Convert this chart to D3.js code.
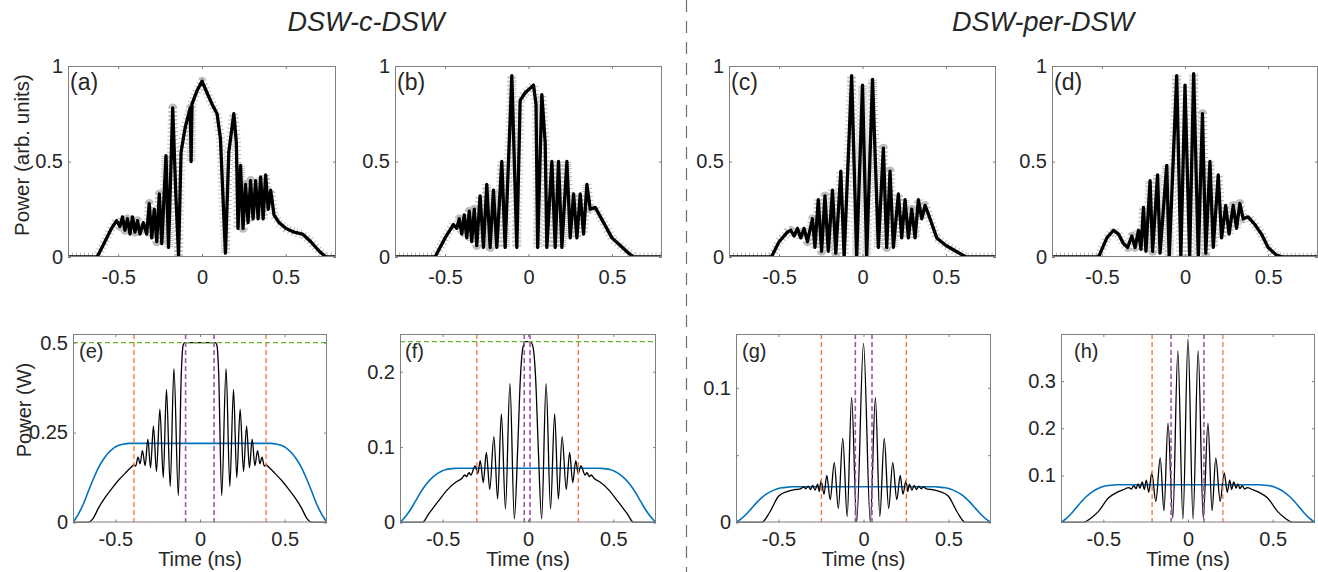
<!DOCTYPE html>
<html><head><meta charset="utf-8">
<script src="https://cdn.jsdelivr.net/npm/d3@7"></script>
<style>
body{margin:0;background:#fff}
svg{display:block}
text{font-family:"Liberation Sans",Arial,Helvetica,sans-serif;fill:#262626}
</style>
</head><body><svg id="c" width="1318" height="572"></svg>
<script>
// ---------------- DATA ----------------
const topXTicks = [-0.5, 0, 0.5];
const topYTicks = [0, 0.5, 1];
const botXTicks = [-0.5, 0, 0.5];
const yTicksE = [0, 0.25, 0.5];
const yTicksF = [0, 0.1, 0.2];
const yTicksG = [0, 0.05, 0.1];
const yLabelsG = ["0", "", "0.1"];
const yTicksH = [0.1, 0.2, 0.3];
const panelLabels = ["(a)","(b)","(c)","(d)","(e)","(f)","(g)","(h)"];
const titles = ["DSW-c-DSW", "DSW-per-DSW"];

// experimental traces (time ns, normalized power)
const expA = [[-0.8,0],[-0.626,0],[-0.58,0.08],[-0.54,0.15],[-0.51,0.19],[-0.49,0.16],[-0.475,0.21],[-0.46,0.14],[-0.445,0.2],[-0.43,0.12],[-0.415,0.21],[-0.40,0.13],[-0.385,0.19],[-0.37,0.12],[-0.35,0.18],[-0.33,0.12],[-0.315,0.28],[-0.30,0.1],[-0.285,0.25],[-0.27,0.08],[-0.255,0.33],[-0.24,0.07],[-0.215,0.53],[-0.20,0.05],[-0.175,0.78],[-0.155,0.3],[-0.14,0.01],[-0.125,0.55],[-0.1,0.68],[-0.07,0.78],[-0.065,0.5],[-0.06,0.8],[-0.03,0.87],[0,0.92],[0.03,0.86],[0.06,0.8],[0.09,0.75],[0.11,0.62],[0.14,0.02],[0.16,0.55],[0.175,0.65],[0.19,0.75],[0.205,0.6],[0.215,0.15],[0.23,0.48],[0.245,0.15],[0.26,0.38],[0.275,0.18],[0.29,0.4],[0.305,0.2],[0.32,0.4],[0.335,0.2],[0.35,0.42],[0.365,0.2],[0.38,0.43],[0.395,0.25],[0.41,0.35],[0.43,0.22],[0.46,0.18],[0.5,0.15],[0.55,0.13],[0.6,0.12],[0.65,0.08],[0.7,0.03],[0.74,0],[0.8,0]];
const expB = [[-0.8,0],[-0.56,0],[-0.5,0.1],[-0.45,0.17],[-0.43,0.15],[-0.415,0.2],[-0.4,0.12],[-0.385,0.22],[-0.37,0.1],[-0.355,0.24],[-0.34,0.08],[-0.325,0.25],[-0.31,0.06],[-0.29,0.32],[-0.27,0.05],[-0.25,0.38],[-0.23,0.05],[-0.21,0.35],[-0.19,0.05],[-0.16,0.5],[-0.14,0.05],[-0.1,0.95],[-0.07,0.05],[-0.05,0.82],[-0.02,0.86],[0.03,0.9],[0.045,0.8],[0.055,0.05],[0.08,0.85],[0.1,0.6],[0.11,0.05],[0.14,0.5],[0.16,0.05],[0.18,0.5],[0.2,0.05],[0.23,0.5],[0.25,0.1],[0.27,0.33],[0.29,0.1],[0.31,0.33],[0.33,0.12],[0.35,0.38],[0.37,0.25],[0.4,0.26],[0.45,0.18],[0.5,0.1],[0.55,0.06],[0.6,0.02],[0.63,0],[0.8,0]];
const expC = [[-0.8,0],[-0.546,0],[-0.5,0.08],[-0.45,0.13],[-0.43,0.14],[-0.41,0.11],[-0.39,0.15],[-0.37,0.1],[-0.35,0.15],[-0.33,0.08],[-0.3,0.2],[-0.285,0.05],[-0.265,0.3],[-0.245,0.03],[-0.225,0.32],[-0.205,0.03],[-0.18,0.35],[-0.16,0.02],[-0.13,0.45],[-0.11,0],[-0.065,0.95],[-0.035,0],[0,0.9],[0.025,0],[0.06,0.93],[0.095,0.05],[0.125,0.57],[0.145,0.05],[0.165,0.45],[0.185,0.05],[0.215,0.33],[0.235,0.1],[0.255,0.3],[0.275,0.1],[0.295,0.25],[0.315,0.1],[0.335,0.3],[0.355,0.2],[0.375,0.27],[0.405,0.2],[0.445,0.1],[0.5,0.06],[0.56,0.03],[0.62,0],[0.8,0]];
const expD = [[-0.8,0],[-0.52,0],[-0.47,0.1],[-0.43,0.14],[-0.4,0.12],[-0.37,0.07],[-0.345,0.05],[-0.32,0.11],[-0.3,0.05],[-0.28,0.14],[-0.265,0.04],[-0.25,0.26],[-0.235,0.03],[-0.21,0.4],[-0.195,0.03],[-0.165,0.43],[-0.15,0.02],[-0.11,0.48],[-0.095,0],[-0.05,0.95],[-0.025,0],[0,0.9],[0.028,0],[0.052,0.96],[0.08,0],[0.105,0.75],[0.125,0.02],[0.15,0.5],[0.17,0.05],[0.2,0.43],[0.22,0.1],[0.245,0.27],[0.265,0.12],[0.29,0.27],[0.31,0.15],[0.33,0.28],[0.35,0.2],[0.38,0.21],[0.42,0.17],[0.46,0.12],[0.5,0.05],[0.55,0.01],[0.59,0],[0.8,0]];

// simulated traces (time ns, power W)
const simE = [[-0.75,0],[-0.66,0],[-0.63,0.012],[-0.6,0.04],[-0.56,0.07],[-0.52,0.095],[-0.48,0.118],[-0.44,0.138],[-0.41,0.152],[-0.39,0.16],[-0.38,0.157],[-0.366,0.182],[-0.354,0.163],[-0.34,0.2],[-0.324,0.158],[-0.308,0.232],[-0.292,0.152],[-0.275,0.268],[-0.257,0.142],[-0.237,0.315],[-0.217,0.125],[-0.198,0.37],[-0.176,0.1],[-0.154,0.428],[-0.128,0.075],[-0.11,0.42],[-0.1,0.492],[-0.09,0.5],[0.09,0.5],[0.1,0.492],[0.11,0.42],[0.128,0.075],[0.154,0.428],[0.176,0.1],[0.198,0.37],[0.217,0.125],[0.237,0.315],[0.257,0.142],[0.275,0.268],[0.292,0.152],[0.308,0.232],[0.324,0.158],[0.34,0.2],[0.354,0.163],[0.366,0.182],[0.38,0.157],[0.39,0.16],[0.41,0.152],[0.44,0.138],[0.48,0.118],[0.52,0.095],[0.56,0.07],[0.6,0.04],[0.63,0.012],[0.66,0],[0.75,0]];
const simF = [[-0.75,0],[-0.62,0],[-0.58,0.012],[-0.53,0.027],[-0.47,0.044],[-0.42,0.054],[-0.39,0.058],[-0.37,0.063],[-0.36,0.061],[-0.345,0.066],[-0.335,0.063],[-0.31,0.075],[-0.294,0.065],[-0.28,0.082],[-0.262,0.053],[-0.244,0.093],[-0.224,0.044],[-0.2,0.114],[-0.178,0.031],[-0.156,0.144],[-0.132,0.018],[-0.106,0.184],[-0.08,0.005],[-0.06,0.1],[-0.045,0.19],[-0.03,0.232],[-0.015,0.24],[0,0.24],[0.015,0.24],[0.03,0.232],[0.045,0.19],[0.06,0.1],[0.08,0.005],[0.106,0.184],[0.132,0.018],[0.156,0.144],[0.178,0.031],[0.2,0.114],[0.224,0.044],[0.244,0.093],[0.262,0.053],[0.28,0.082],[0.294,0.065],[0.31,0.075],[0.335,0.063],[0.345,0.066],[0.36,0.061],[0.37,0.063],[0.39,0.058],[0.42,0.054],[0.47,0.044],[0.53,0.027],[0.58,0.012],[0.62,0],[0.75,0]];
const simG = [[-0.75,0],[-0.6,0],[-0.55,0.008],[-0.5,0.0195],[-0.45,0.023],[-0.4,0.0245],[-0.37,0.025],[-0.35,0.0265],[-0.34,0.025],[-0.325,0.027],[-0.312,0.0245],[-0.298,0.0275],[-0.285,0.024],[-0.27,0.0285],[-0.26,0.023],[-0.25,0.031],[-0.232,0.021],[-0.216,0.035],[-0.196,0.017],[-0.172,0.0445],[-0.148,0.0105],[-0.122,0.0625],[-0.096,0.0045],[-0.07,0.093],[-0.04,0.0003],[0,0.133],[0.04,0.0003],[0.07,0.093],[0.096,0.0045],[0.122,0.0625],[0.148,0.0105],[0.172,0.0445],[0.196,0.017],[0.216,0.035],[0.232,0.021],[0.25,0.031],[0.26,0.023],[0.27,0.0285],[0.285,0.024],[0.298,0.0275],[0.312,0.0245],[0.325,0.027],[0.34,0.025],[0.35,0.0265],[0.37,0.025],[0.4,0.0245],[0.45,0.023],[0.5,0.0195],[0.55,0.008],[0.6,0],[0.75,0]];
const simH = [[-0.75,0],[-0.62,0],[-0.57,0.01],[-0.53,0.023],[-0.47,0.052],[-0.42,0.064],[-0.38,0.07],[-0.35,0.074],[-0.335,0.071],[-0.32,0.078],[-0.307,0.072],[-0.295,0.082],[-0.284,0.073],[-0.27,0.086],[-0.258,0.07],[-0.246,0.09],[-0.232,0.064],[-0.214,0.105],[-0.19,0.045],[-0.164,0.137],[-0.142,0.025],[-0.118,0.211],[-0.09,0.009],[-0.06,0.364],[-0.03,0.007],[0,0.389],[0.03,0.007],[0.06,0.364],[0.09,0.009],[0.118,0.211],[0.142,0.025],[0.164,0.137],[0.19,0.045],[0.214,0.105],[0.232,0.064],[0.246,0.09],[0.258,0.07],[0.27,0.086],[0.284,0.073],[0.295,0.082],[0.307,0.072],[0.32,0.078],[0.335,0.071],[0.35,0.074],[0.38,0.07],[0.42,0.064],[0.47,0.052],[0.53,0.023],[0.57,0.01],[0.62,0],[0.75,0]];

// input pulse envelopes (blue)
const envE = [[-0.75,0],[-0.72,0.022],[-0.69,0.05],[-0.66,0.086],[-0.63,0.121],[-0.6,0.152],[-0.57,0.176],[-0.54,0.194],[-0.51,0.207],[-0.48,0.2145],[-0.45,0.218],[-0.42,0.22],[0.42,0.22],[0.45,0.218],[0.48,0.2145],[0.51,0.207],[0.54,0.194],[0.57,0.176],[0.6,0.152],[0.63,0.121],[0.66,0.086],[0.69,0.05],[0.72,0.022],[0.75,0]];
const envF = [[-0.75,0],[-0.72,0.0072],[-0.69,0.0166],[-0.66,0.028],[-0.63,0.0396],[-0.6,0.0497],[-0.57,0.0576],[-0.54,0.0634],[-0.51,0.0677],[-0.48,0.0702],[-0.45,0.0713],[-0.42,0.072],[0.42,0.072],[0.45,0.0713],[0.48,0.0702],[0.51,0.0677],[0.54,0.0634],[0.57,0.0576],[0.6,0.0497],[0.63,0.0396],[0.66,0.028],[0.69,0.0166],[0.72,0.0072],[0.75,0]];
const envG = [[-0.75,0],[-0.72,0.0027],[-0.69,0.0061],[-0.66,0.0103],[-0.63,0.0146],[-0.6,0.0183],[-0.57,0.0212],[-0.54,0.0233],[-0.51,0.0249],[-0.48,0.0258],[-0.45,0.0262],[-0.42,0.0265],[0.42,0.0265],[0.45,0.0262],[0.48,0.0258],[0.51,0.0249],[0.54,0.0233],[0.57,0.0212],[0.6,0.0183],[0.63,0.0146],[0.66,0.0103],[0.69,0.0061],[0.72,0.0027],[0.75,0]];
const envH = [[-0.75,0],[-0.72,0.008],[-0.69,0.0184],[-0.66,0.0312],[-0.63,0.044],[-0.6,0.0552],[-0.57,0.064],[-0.54,0.0704],[-0.51,0.0752],[-0.48,0.078],[-0.45,0.0792],[-0.42,0.08],[0.42,0.08],[0.45,0.0792],[0.48,0.078],[0.51,0.0752],[0.54,0.0704],[0.57,0.064],[0.6,0.0552],[0.63,0.044],[0.66,0.0312],[0.69,0.0184],[0.72,0.008],[0.75,0]];

// marker lines
const orangeE = [-0.39, 0.39], purpleE = [-0.085, 0.083], greenE = [0.5];
const orangeF = [-0.3, 0.295], purpleF = [-0.022, 0.012], greenF = [0.24];
const orangeG = [-0.248, 0.252], purpleG = [-0.048, 0.05], greenG = [];
const orangeH = [-0.212, 0.206], purpleH = [-0.1, 0.094], greenH = [];

// ---------------- DRAWING ----------------
const svg = d3.select("#c");
const FS = 20;
const AXC = "#7f7f7f";

function makePanel(p){
  const x = d3.scaleLinear().domain(p.xd).range([p.x0, p.x1]);
  const y = d3.scaleLinear().domain(p.yd).range([p.y1, p.y0]);
  const g = svg.append("g");
  const cid = "clip" + p.id;
  svg.append("clipPath").attr("id", cid).append("rect")
    .attr("x", p.x0).attr("y", p.y0 - 2).attr("width", p.x1 - p.x0).attr("height", p.y1 - p.y0 + 2);
  const plot = g.append("g").attr("clip-path", `url(#${cid})`);
  return {x, y, g, plot};
}

function axes(P, p){
  const {x, y, g} = P;
  const fmt = d => String(d);
  const ax = g.append("g").attr("transform", `translate(0,${p.y1})`)
    .call(d3.axisBottom(x).tickValues(p.xt).tickSize(-3).tickPadding(p.xpad).tickFormat(fmt));
  const axT = g.append("g").attr("transform", `translate(0,${p.y0})`)
    .call(d3.axisTop(x).tickValues(p.xt).tickSize(-3).tickFormat(""));
  const yl = p.ylab ? ((d,i) => p.ylab[i]) : fmt;
  const ay = g.append("g").attr("transform", `translate(${p.x0},0)`)
    .call(d3.axisLeft(y).tickValues(p.yt).tickSize(-3).tickPadding(5).tickFormat(yl));
  const ayR = g.append("g").attr("transform", `translate(${p.x1},0)`)
    .call(d3.axisRight(y).tickValues(p.yt).tickSize(-3).tickFormat(""));
  [ax, axT, ay, ayR].forEach(a => {
    a.select(".domain").remove();
    a.selectAll(".tick line").attr("stroke", AXC);
    a.selectAll("text").attr("font-size", FS).attr("fill", "#262626")
      .attr("font-family", '"Liberation Sans",Arial,sans-serif');
  });
  g.append("rect").attr("x", p.x0 + 0.5).attr("y", p.y0 + 0.5)
    .attr("width", p.x1 - p.x0 - 1).attr("height", p.y1 - p.y0 - 1)
    .attr("fill", "none").attr("stroke", AXC).attr("stroke-width", 1);
}

// top panels
const topCfg = [
  {id:"a", x0:68,  x1:336,  data:expA},
  {id:"b", x0:395, x1:662,  data:expB},
  {id:"c", x0:729, x1:996,  data:expC},
  {id:"d", x0:1052,x1:1318, data:expD}
];
topCfg.forEach((c, i) => {
  const p = Object.assign({y0:66, y1:257, xd:[-0.8,0.8], yd:[0,1], xt:topXTicks, yt:topYTicks, xpad:13}, c);
  const P = makePanel(p);
  const line = d3.line().x(d => P.x(d[0])).y(d => P.y(d[1])).curve(d3.curveLinear);
  // light grey speckle halo around the measured trace
  P.plot.append("path").datum(p.data).attr("d", line)
    .attr("fill", "none").attr("stroke", "#bdbdbd").attr("stroke-width", 9)
    .attr("stroke-linejoin", "round").attr("stroke-dasharray", "1,3");
  P.plot.append("path").datum(p.data).attr("d", line)
    .attr("fill", "none").attr("stroke", "#000").attr("stroke-width", 3.3)
    .attr("stroke-linejoin", "round");
  axes(P, p);
  P.g.append("text").attr("x", p.x0 + 2).attr("y", 90).attr("font-size", 23)
    .attr("font-family", '"Open Sans","Noto Sans",sans-serif').text(panelLabels[i]);
});

// bottom panels
const botCfg = [
  {id:"e", x0:73,   x1:327,  yd:[0,0.524], yt:yTicksE, sim:simE, env:envE, or:orangeE, pu:purpleE, gr:greenE, lx:79},
  {id:"f", x0:400,  x1:656,  yd:[0,0.25],  yt:yTicksF, sim:simF, env:envF, or:orangeF, pu:purpleF, gr:greenF, lx:405},
  {id:"g", x0:736,  x1:991,  yd:[0,0.14],  yt:yTicksG, ylab:yLabelsG, sim:simG, env:envG, or:orangeG, pu:purpleG, gr:greenG, lx:742},
  {id:"h", x0:1061, x1:1315, yd:[0,0.4],   yt:yTicksH, sim:simH, env:envH, or:orangeH, pu:purpleH, gr:greenH, lx:1074}
];
botCfg.forEach((c, i) => {
  const p = Object.assign({y0:334, y1:522.5, xd:[-0.75,0.75], xt:botXTicks, xpad:9}, c);
  const P = makePanel(p);
  const line = d3.line().x(d => P.x(d[0])).y(d => P.y(d[1])).curve(d3.curveMonotoneX);
  P.plot.append("path").datum(p.env).attr("d", line)
    .attr("fill", "none").attr("stroke", "#0072BD").attr("stroke-width", 1.6);
  P.plot.append("path").datum(p.sim).attr("d", line)
    .attr("fill", "none").attr("stroke", "#000").attr("stroke-width", 1.3);
  P.plot.selectAll(".vo").data(p.or).join("line")
    .attr("x1", d => P.x(d)).attr("x2", d => P.x(d)).attr("y1", p.y0).attr("y2", p.y1)
    .attr("stroke", "#F07A3A").attr("stroke-width", 1.3).attr("stroke-dasharray", "5,3");
  P.plot.selectAll(".vp").data(p.pu).join("line")
    .attr("x1", d => P.x(d)).attr("x2", d => P.x(d)).attr("y1", p.y0).attr("y2", p.y1)
    .attr("stroke", "#A050B0").attr("stroke-width", 1.6).attr("stroke-dasharray", "5,3");
  P.plot.selectAll(".hg").data(p.gr).join("line")
    .attr("x1", p.x0).attr("x2", p.x1).attr("y1", d => P.y(d)).attr("y2", d => P.y(d))
    .attr("stroke", "#6AB42D").attr("stroke-width", 1.2).attr("stroke-dasharray", "5,3");
  axes(P, p);
  P.g.append("text").attr("x", p.lx).attr("y", 358).attr("font-size", 20).text(panelLabels[4 + i]);
  P.g.append("text").attr("x", (p.x0 + p.x1) / 2).attr("y", 566).attr("text-anchor", "middle")
    .attr("font-size", FS).text("Time (ns)");
});

// axis titles
svg.append("text").attr("transform", "translate(29,155) rotate(-90)").attr("text-anchor", "middle")
  .attr("font-size", 20.5).text("Power (arb. units)");
svg.append("text").attr("transform", "translate(31,410) rotate(-90)").attr("text-anchor", "middle")
  .attr("font-size", 20).text("Power (W)");

// column titles
svg.append("text").attr("x", 366).attr("y", 31).attr("text-anchor", "middle")
  .attr("font-size", 27).attr("font-style", "italic").text(titles[0]);
svg.append("text").attr("x", 1043).attr("y", 31).attr("text-anchor", "middle")
  .attr("font-size", 27).attr("font-style", "italic").text(titles[1]);

// separator
svg.append("line").attr("x1", 686.5).attr("x2", 686.5).attr("y1", 0).attr("y2", 572)
  .attr("stroke", "#6e6e6e").attr("stroke-width", 1.2).attr("stroke-dasharray", "12,9");
</script>
</body></html>
